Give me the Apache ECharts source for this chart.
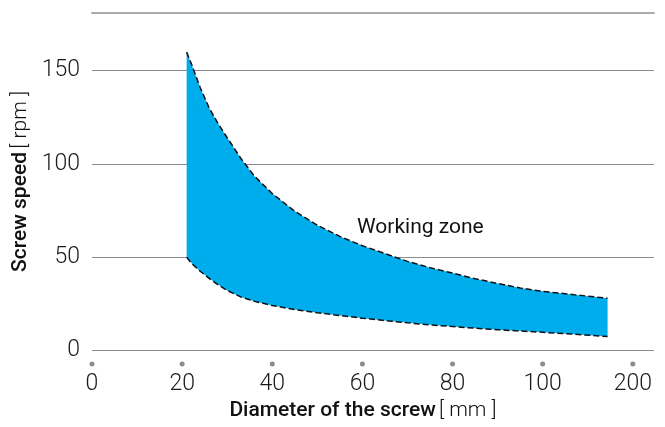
<!DOCTYPE html>
<html>
<head>
<meta charset="utf-8">
<script src="https://cdn.jsdelivr.net/npm/echarts@6/dist/echarts.min.js"></script>
<style>
html,body{margin:0;padding:0;background:#fff;}
#chart{width:665px;height:427px;}
</style>
</head>
<body>
<div id="chart"></div>
<script>
// Diameter of the screw (axis units; the last tick position is labelled "200")
const diameters = [21, 22, 24, 26, 28, 30, 33, 36, 40, 45, 50, 55, 60, 65, 70, 75, 80, 85, 90, 95, 100, 107, 114.4];
// Upper limit of the working zone [rpm]
const upperSpeed = [160, 154, 141, 130, 121.5, 114, 103, 93.5, 84, 74.5, 67, 61, 56, 51.8, 47.6, 44.2, 41.3, 38.3, 35.7, 33.3, 31.5, 29.7, 27.8];
// Lower limit of the working zone [rpm]
const lowerSpeed = [49.8, 46.8, 42.3, 38.5, 35, 32, 28.5, 26.2, 23.9, 21.7, 20, 18.5, 17.1, 15.8, 14.6, 13.5, 12.6, 11.7, 10.9, 10.2, 9.5, 8.5, 7.2];
// X tick labels (at 0,20,...,120 on the axis)
const xTickLabels = ['0', '20', '40', '60', '80', '100', '200'];
const yTickValues = [0, 50, 100, 150];
const zoneLabel = 'Working zone';

const lowerPts = diameters.map((d, i) => [d, lowerSpeed[i]]);
const upperPts = diameters.map((d, i) => [d, upperSpeed[i]]);

const chart = echarts.init(document.getElementById('chart'));
const numFont = 'Roboto, "Liberation Sans", Arial, sans-serif';
const dash = { color: '#111', width: 1.5, type: [6, 3] };

chart.setOption({
  animation: false,
  backgroundColor: '#fff',
  grid: { left: 92, right: 11, top: 13, bottom: 77, containLabel: false },
  xAxis: [{
    type: 'value', min: 0, max: 124.7, interval: 20,
    axisLine: { show: false }, axisTick: { show: false }, splitLine: { show: false },
    axisLabel: {
      margin: 9,
      formatter: function (v) {
        const idx = Math.round(v / 20);
        if (Math.abs(v - idx * 20) > 1e-6 || idx >= xTickLabels.length) return '';
        return '{d| }\n{n|' + xTickLabels[idx] + '}';
      },
      rich: {
        d: { width: 5, height: 5, backgroundColor: '#8c8c8c', borderRadius: 2.5, lineHeight: 10, fontSize: 5 },
        n: { fontFamily: numFont, fontWeight: 300, fontSize: 23, color: '#1a1a1a', lineHeight: 30 }
      }
    },
    name: '{b|Diameter of the screw} {l|[ mm ]}',
    nameLocation: 'middle', nameGap: 50,
    nameTextStyle: {
      padding: [0, 20, 0, 0],
      rich: {
        b: { fontFamily: numFont, fontWeight: 500, fontSize: 21, color: '#111' },
        l: { fontFamily: numFont, fontWeight: 300, fontSize: 21, color: '#111' }
      }
    }
  }, {
    type: 'value', position: 'top', min: 0, max: 124.7,
    axisLine: { show: true, lineStyle: { color: '#ababab', width: 2 } },
    axisTick: { show: false }, axisLabel: { show: false }, splitLine: { show: false }
  }],
  yAxis: {
    type: 'value', min: 0, max: 181, interval: 50,
    axisLine: { show: false }, axisTick: { show: false },
    splitLine: { show: true, showMaxLine: false, lineStyle: { color: '#8a8a8a', width: 1.2 } },
    axisLabel: {
      margin: 12, fontFamily: numFont, fontWeight: 300, fontSize: 23, color: '#1a1a1a',
      formatter: function (v) { return yTickValues.indexOf(v) >= 0 ? String(v) : ''; }
    },
    name: '{b|Screw speed} {l|[ rpm ]}',
    nameLocation: 'middle', nameGap: 58,
    nameTextStyle: {
      rich: {
        b: { fontFamily: numFont, fontWeight: 500, fontSize: 21, color: '#111' },
        l: { fontFamily: numFont, fontWeight: 300, fontSize: 21, color: '#111' }
      }
    }
  },
  series: [
    {
      name: 'zone', type: 'custom', xAxisIndex: 0, yAxisIndex: 0, silent: true, z: 2,
      data: [[diameters[0], lowerSpeed[0]]],
      renderItem: function (params, api) {
        const pts = [];
        for (let i = 0; i < diameters.length; i++) pts.push(api.coord([diameters[i], upperSpeed[i]]));
        for (let i = diameters.length - 1; i >= 0; i--) pts.push(api.coord([diameters[i], lowerSpeed[i]]));
        return { type: 'polygon', shape: { points: pts }, style: { fill: '#00adec', stroke: null } };
      }
    },
    { name: 'upper', type: 'line', data: upperPts, symbol: 'none', lineStyle: dash, z: 3 },
    { name: 'lower', type: 'line', data: lowerPts, symbol: 'none', lineStyle: dash, z: 3 }
  ],
  graphic: [{
    type: 'text', left: 357, top: 217, z: 10,
    style: { text: zoneLabel, fontFamily: numFont, fontSize: 21, fill: '#111' }
  }]
});
</script>
</body>
</html>
